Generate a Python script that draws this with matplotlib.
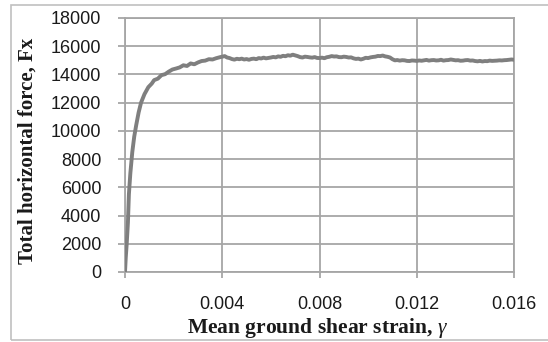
import matplotlib
matplotlib.use("Agg")
import matplotlib.pyplot as plt
from matplotlib.patches import Rectangle

# Data
strain = [0, 0.00003, 0.00007, 0.00012, 0.00016, 0.00022, 0.0003, 0.00038, 0.00046,
          0.00056, 0.00066, 0.0008, 0.00096, 0.0011, 0.0012, 0.00135, 0.0015, 0.00165,
          0.0018, 0.00195, 0.0021, 0.00225, 0.0024, 0.00255, 0.0027, 0.00285, 0.003,
          0.00315, 0.0033, 0.00345, 0.0036, 0.00375, 0.0039, 0.0041,
          0.0042, 0.0043, 0.0044, 0.0045, 0.0046, 0.0047, 0.0048, 0.0049, 0.005,
          0.0051, 0.0052, 0.0053, 0.0054, 0.0055, 0.0056, 0.0057, 0.0058, 0.0059,
          0.006, 0.0061, 0.0062, 0.0063, 0.0064, 0.0065, 0.0066, 0.0067, 0.0068,
          0.0069, 0.007, 0.0071, 0.0072, 0.0073, 0.0074, 0.0075, 0.0076, 0.0077,
          0.0078, 0.0079, 0.008, 0.0081, 0.0082, 0.0083, 0.0084, 0.0085, 0.0086,
          0.0087, 0.0088, 0.0089, 0.009, 0.0091, 0.0092, 0.0093, 0.0094, 0.0095,
          0.0096, 0.0097, 0.0098, 0.0099, 0.01, 0.0101, 0.0102, 0.0103, 0.0104,
          0.0105, 0.0106, 0.0107, 0.0108, 0.0109, 0.011, 0.0111, 0.0112, 0.0113,
          0.0114, 0.0115, 0.0116, 0.0117, 0.0118, 0.0119, 0.012, 0.0121, 0.0122,
          0.0123, 0.0124, 0.0125, 0.0126, 0.0127, 0.0128, 0.0129, 0.013, 0.0131,
          0.0132, 0.0133, 0.0134, 0.0135, 0.0136, 0.0137, 0.0138, 0.0139, 0.014,
          0.0141, 0.0142, 0.0143, 0.0144, 0.0145, 0.0146, 0.0147, 0.0148, 0.0149,
          0.015, 0.0151, 0.0152, 0.0153, 0.0154, 0.0155, 0.0156, 0.0157, 0.0158,
          0.0159, 0.016]
force = [0, 1000, 2000, 3500, 5500, 7000, 8500, 9600, 10400,
         11300, 12000, 12600, 13100, 13350, 13600, 13700, 13950, 14020,
         14200, 14350, 14420, 14500, 14650, 14600, 14780, 14720, 14850,
         14950, 14980, 15080, 15060, 15150, 15220, 15300,
         15200, 15160, 15090, 15050, 15110, 15080, 15120, 15060, 15090,
         15040, 15100, 15120, 15080, 15160, 15130, 15190, 15140, 15170,
         15200, 15240, 15210, 15280, 15250, 15320, 15290, 15360, 15330,
         15400, 15350, 15300, 15230, 15200, 15260, 15240, 15210, 15190,
         15230, 15170, 15160, 15190, 15150, 15220, 15250, 15300, 15270,
         15280, 15230, 15220, 15260, 15240, 15200, 15210, 15140, 15100,
         15120, 15060, 15110, 15180, 15160, 15210, 15240, 15260, 15310,
         15300, 15340, 15280, 15250, 15200, 15080, 15000, 15020, 14980,
         15010, 15000, 14960, 14950, 14990, 14980, 14960, 14990, 14970,
         15000, 15030, 14980, 15010, 15020, 14990, 15000, 15040, 14980,
         15010, 15020, 15060, 15030, 15000, 15010, 14970, 14980, 15010,
         15020, 14980, 14990, 14950, 14930, 14960, 14920, 14950, 14940,
         14980, 14960, 14970, 14980, 15000, 14990, 15010, 15020, 15040,
         15060, 15040]

xticks = [0, 0.004, 0.008, 0.012, 0.016]
xticklabels = ["0", "0.004", "0.008", "0.012", "0.016"]
yticks = [0, 2000, 4000, 6000, 8000, 10000, 12000, 14000, 16000, 18000]
yticklabels = [str(v) for v in yticks]
xlabel = r"Mean ground shear strain, $\gamma$"
ylabel = "Total horizontal force, Fx"

plt.rcParams['mathtext.fontset'] = 'custom'
plt.rcParams['mathtext.it'] = 'Liberation Serif:italic'
plt.rcParams['mathtext.rm'] = 'Liberation Serif'

W, H = 548, 342
fig = plt.figure(figsize=(W / 100, H / 100), dpi=100)
ax = fig.add_axes([125 / W, 1 - 272 / H, (514 - 125) / W, (272 - 18) / H])

grid_c = '#a6a6a6'
ax.plot(strain, force, color='#7f7f7f', linewidth=2.8, solid_capstyle='round',
        solid_joinstyle='round', zorder=3)

ax.set_xlim(0, 0.016)
ax.set_ylim(0, 18000)
ax.set_xticks(xticks)
ax.set_xticklabels(xticklabels)
ax.set_yticks(yticks)
ax.set_yticklabels(yticklabels)
ax.grid(True, color=grid_c, linewidth=1.3)
ax.set_axisbelow(True)
for s in ax.spines.values():
    s.set_color(grid_c)
    s.set_linewidth(1.3)

for lab in ax.get_xticklabels() + ax.get_yticklabels():
    lab.set_fontfamily('Liberation Sans')
    lab.set_fontsize(13)
    lab.set_color('#1a1a1a')
ax.tick_params(axis='x', direction='out', length=4, width=1.3, color=grid_c, pad=13)
ax.tick_params(axis='y', direction='out', length=5, width=1.3, color=grid_c, pad=12)

fig.text(318 / W, 1 - 332.5 / H, xlabel, fontfamily='Liberation Serif',
         fontweight='bold', fontsize=15.5, color='#1a1a1a', ha='center', va='baseline')
fig.text(28 / W, 1 - 151 / H, ylabel, fontfamily='Liberation Serif', rotation=90,
         fontweight='bold', fontsize=15, color='#1a1a1a', ha='center', va='center')

fig.patches.append(Rectangle((11 / W, 2 / H), 1.0, 1 - 7 / H, transform=fig.transFigure,
                             fill=False, edgecolor='#c0c0c0', linewidth=1.2))

fig.savefig('out.png', dpi=100)
